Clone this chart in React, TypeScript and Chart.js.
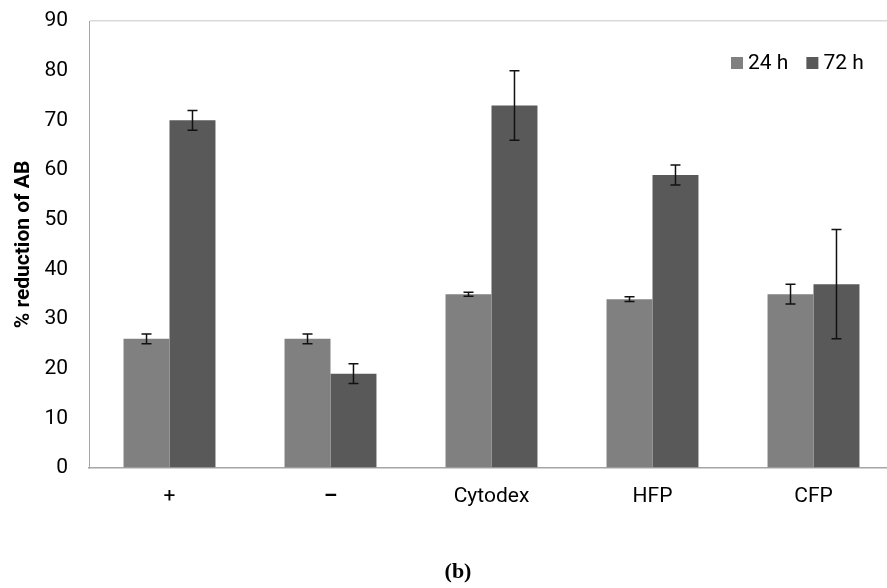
import React, { useEffect, useRef } from "react";
import { Chart, registerables } from "chart.js";

Chart.register(...registerables);

// ---- data ----
const categories = ["+", "–", "Cytodex", "HFP", "CFP"];
const seriesNames = ["24 h", "72 h"];
const values24h = [26, 26, 35, 34, 35];
const errors24h = [1, 1, 0.4, 0.5, 2];
const values72h = [70, 19, 73, 59, 37];
const errors72h = [2, 2, 7, 2, 11];
const yMin = 0;
const yMax = 90;
const yStep = 10;
const yTitle = "% reduction of AB";
const caption = "(b)";

const seriesColors = ["#808080", "#595959"];
const seriesErrors = [errors24h, errors72h];

const errorBarPlugin = {
  id: "errorBars",
  afterDatasetsDraw(chart: any) {
    const ctx = chart.ctx;
    const yScale = chart.scales.y;
    ctx.save();
    ctx.strokeStyle = "#111";
    ctx.lineWidth = 1.5;
    chart.data.datasets.forEach((ds: any, di: number) => {
      const meta = chart.getDatasetMeta(di);
      const errs = seriesErrors[di];
      meta.data.forEach((bar: any, i: number) => {
        const v = ds.data[i];
        const e = errs[i];
        const x = bar.x;
        const yTop = yScale.getPixelForValue(v + e);
        const yBot = yScale.getPixelForValue(v - e);
        const cap = 5;
        ctx.beginPath();
        ctx.moveTo(x, yTop);
        ctx.lineTo(x, yBot);
        ctx.moveTo(x - cap, yTop);
        ctx.lineTo(x + cap, yTop);
        ctx.moveTo(x - cap, yBot);
        ctx.lineTo(x + cap, yBot);
        ctx.stroke();
      });
    });
    ctx.restore();
  },
};

const legendPlugin = {
  id: "customLegend",
  afterDraw(chart: any) {
    const ctx = chart.ctx;
    const area = chart.chartArea;
    ctx.save();
    ctx.font = "21px Roboto";
    ctx.textBaseline = "middle";
    ctx.textAlign = "left";
    let x = area.right - 163;
    const cy = area.top + 42;
    seriesNames.forEach((name, i) => {
      ctx.fillStyle = seriesColors[i];
      ctx.fillRect(x, cy - 6, 12, 12);
      x += 17;
      ctx.fillStyle = "#000";
      ctx.fillText(name, x, cy + 1);
      x += ctx.measureText(name).width + 18;
    });
    ctx.restore();
  },
};

const captionPlugin = {
  id: "caption",
  afterDraw(chart: any) {
    const ctx = chart.ctx;
    ctx.save();
    ctx.font = "bold 22px 'Liberation Serif'";
    ctx.fillStyle = "#000";
    ctx.textAlign = "center";
    ctx.textBaseline = "middle";
    ctx.fillText(caption, 458, 572);
    ctx.restore();
  },
};

export default function App() {
  const canvasRef = useRef<HTMLCanvasElement | null>(null);

  useEffect(() => {
    document.body.style.margin = "0";
    const canvas = canvasRef.current;
    if (!canvas) return;
    Chart.defaults.font.family = "Roboto";
    const chart = new Chart(canvas, {
      type: "bar",
      data: {
        labels: categories,
        datasets: [
          {
            label: seriesNames[0],
            data: values24h,
            backgroundColor: seriesColors[0],
            categoryPercentage: 0.571,
            barPercentage: 1,
          },
          {
            label: seriesNames[1],
            data: values72h,
            backgroundColor: seriesColors[1],
            categoryPercentage: 0.571,
            barPercentage: 1,
          },
        ],
      },
      options: {
        animation: false,
        responsive: true,
        maintainAspectRatio: false,
        layout: { padding: { left: 0, top: 21, right: 1, bottom: 0 } },
        plugins: {
          legend: { display: false },
          tooltip: { enabled: false },
        },
        scales: {
          x: {
            grid: { display: false, drawTicks: false },
            border: { display: true, color: "#a6a6a6", width: 1.5 },
            ticks: {
              font: (c: any) => ({ size: 21, weight: c.index === 1 ? "bold" : "normal" }),
              color: "#000",
              padding: 16,
              maxRotation: 0,
              autoSkip: false,
            },
            afterFit: (s: any) => {
              s.height = 120;
              s.paddingLeft = 0;
              s.paddingRight = 0;
            },
          },
          y: {
            min: yMin,
            max: yMax,
            ticks: {
              stepSize: yStep,
              font: { size: 21 },
              color: "#000",
              padding: 21,
            },
            grid: {
              drawTicks: false,
              color: (c: any) =>
                c.tick && c.tick.value === yMax ? "#d9d9d9" : "rgba(0,0,0,0)",
              lineWidth: 1.5,
            },
            border: { display: true, color: "#a6a6a6", width: 1 },
            title: {
              display: true,
              text: yTitle,
              font: { size: 21, weight: "bold" },
              color: "#000",
              padding: { top: 11, bottom: 0 },
            },
            afterFit: (s: any) => {
              s.width = 89;
              s.paddingTop = 0;
              s.paddingBottom = 0;
            },
          },
        },
      },
      plugins: [errorBarPlugin, legendPlugin, captionPlugin],
    } as any);
    return () => chart.destroy();
  }, []);

  return (
    <div style={{ width: 887, height: 588, overflow: "hidden", position: "relative" }}>
      <div style={{ width: 895, height: 588, position: "relative" }}>
        <canvas ref={canvasRef} />
      </div>
    </div>
  );
}
